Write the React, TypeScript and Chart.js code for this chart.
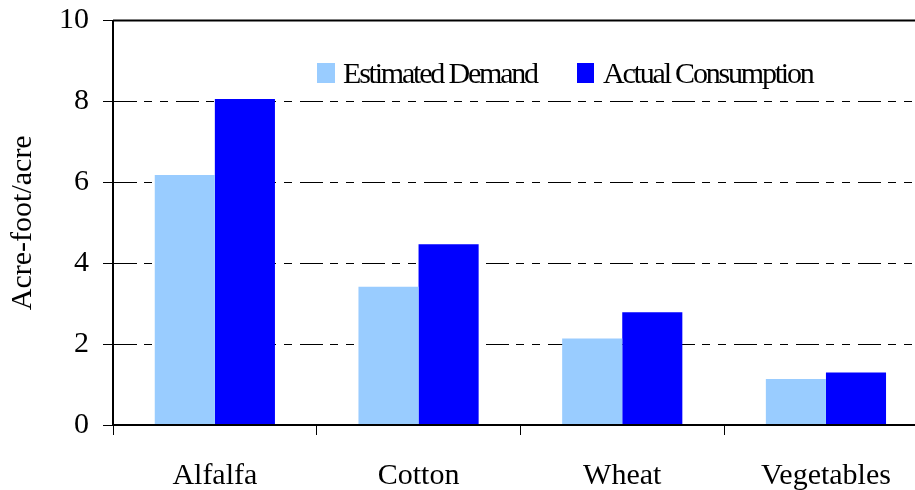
import React, { useEffect, useRef } from 'react';
import { Chart, registerables } from 'chart.js';

Chart.register(...registerables);

const categories = ['Alfalfa', 'Cotton', 'Wheat', 'Vegetables'];
const estimatedDemand = [6.18, 3.42, 2.14, 1.14];
const actualConsumption = [8.06, 4.47, 2.79, 1.3];
const seriesLabels = ['Estimated Demand', 'Actual Consumption'];
const yAxisTitle = 'Acre-foot/acre';
const yMin = 0;
const yMax = 10;
const yStep = 2;

const FONT = '"Liberation Serif", "Times New Roman", serif';

const topBorderPlugin = {
  id: 'topBorder',
  afterDatasetsDraw(chart: any) {
    const { ctx, chartArea } = chart;
    ctx.save();
    ctx.strokeStyle = '#000';
    ctx.lineWidth = 2;
    ctx.beginPath();
    ctx.moveTo(chartArea.left, chartArea.top);
    ctx.lineTo(chartArea.right, chartArea.top);
    ctx.stroke();
    ctx.restore();
  },
};

const insideLegendPlugin = {
  id: 'insideLegend',
  afterDraw(chart: any) {
    const { ctx } = chart;
    const items = [
      { x: 317, w: 18 },
      { x: 577, w: 17 },
    ];
    ctx.save();
    ctx.font = `30px ${FONT}`;
    ctx.textBaseline = 'alphabetic';
    ctx.textAlign = 'left';
    try {
      (ctx as any).letterSpacing = '-2.2px';
    } catch (e) {}
    chart.data.datasets.forEach((ds: any, i: number) => {
      const it = items[i];
      ctx.fillStyle = ds.backgroundColor;
      ctx.fillRect(it.x, 63, it.w, 20);
      ctx.fillStyle = '#000';
      ctx.fillText(ds.label, it.x + 26, 83);
    });
    ctx.restore();
  },
};

export default function App() {
  const ref = useRef<HTMLCanvasElement | null>(null);

  useEffect(() => {
    if (!ref.current) return;
    const chart = new Chart(ref.current, {
      type: 'bar',
      data: {
        labels: categories,
        datasets: [
          {
            label: seriesLabels[0],
            data: estimatedDemand,
            backgroundColor: '#99CCFF',
            borderWidth: 0,
          },
          {
            label: seriesLabels[1],
            data: actualConsumption,
            backgroundColor: '#0000FF',
            borderWidth: 0,
          },
        ],
      },
      options: {
        responsive: false,
        animation: false,
        devicePixelRatio: 1,
        layout: { padding: { left: 0, right: 12.2, top: 20.5, bottom: 0 } },
        datasets: {
          bar: { categoryPercentage: 0.59, barPercentage: 1.0 },
        },
        plugins: {
          legend: { display: false },
          tooltip: { enabled: false },
        },
        scales: {
          x: {
            grid: {
              display: true,
              drawOnChartArea: false,
              drawTicks: true,
              tickLength: 10,
              tickColor: '#000',
              tickWidth: 1,
              offset: true,
            },
            border: { display: true, color: '#000', width: 2, z: 1 },
            ticks: {
              color: '#000',
              font: { family: FONT, size: 30 },
              padding: 23,
              maxRotation: 0,
              autoSkip: false,
            },
            afterFit: (scale: any) => {
              scale.height = 65;
              scale.paddingLeft = 0;
              scale.paddingRight = 0;
            },
          },
          y: {
            min: yMin,
            max: yMax,
            grid: {
              color: (c: any) =>
                c.tick && (c.tick.value === yMax || c.tick.value === yMin) ? 'rgba(0,0,0,0)' : '#000',
              lineWidth: 1,
              drawTicks: true,
              tickLength: 10,
              tickColor: '#000',
              tickWidth: 1,
            },
            border: { display: true, color: '#000', width: 2, dash: [23, 7, 8, 8, 8, 8], z: 1 },
            ticks: {
              stepSize: yStep,
              color: '#000',
              font: { family: FONT, size: 30 },
              padding: 14,
            },
            title: {
              display: true,
              text: yAxisTitle,
              color: '#000',
              font: { family: FONT, size: 30 },
              padding: { top: 5, bottom: 0 },
            },
            afterFit: (scale: any) => {
              scale.width = 113;
              scale.paddingTop = 0;
              scale.paddingBottom = 0;
            },
          },
        },
      },
      plugins: [topBorderPlugin, insideLegendPlugin],
    });
    return () => chart.destroy();
  }, []);

  return (
    <div
      style={{
        position: 'absolute',
        left: 0,
        top: 0,
        width: 915,
        height: 490,
        overflow: 'hidden',
        background: '#fff',
      }}
    >
      <canvas ref={ref} width={940} height={490} style={{ display: 'block', width: 940, height: 490 }} />
    </div>
  );
}
